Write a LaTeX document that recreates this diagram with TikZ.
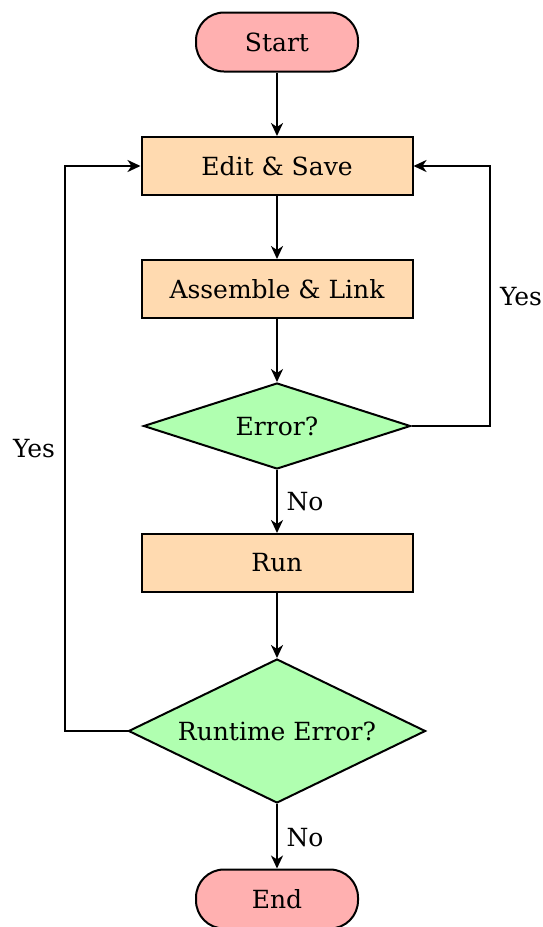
\documentclass[tikz,border=0pt]{standalone}
\usepackage{fontspec}
\setmainfont{DejaVu Serif}
\usetikzlibrary{shapes.geometric,arrows.meta}
\definecolor{termfill}{HTML}{FFB0B0}
\definecolor{procfill}{HTML}{FFDAB0}
\definecolor{decfill}{HTML}{B0FFB0}
\begin{document}
\begin{tikzpicture}[x=1pt,y=-1pt,
  every node/.style={font=\fontsize{25}{29}\selectfont},
  term/.style={draw, line width=2pt, fill=termfill, rounded corners=28pt, minimum width=162pt, minimum height=59pt, inner sep=0pt},
  proc/.style={draw, line width=2pt, fill=procfill, minimum width=271pt, minimum height=58pt, inner sep=0pt},
  dec/.style={draw, diamond, line width=2pt, fill=decfill, inner sep=0pt},
  flow/.style={line width=2.4pt, -{Stealth[length=13pt,width=12pt,inset=4pt]}},
  lbl/.style={inner sep=0pt}]
\useasboundingbox (0,0) rectangle (543,927);
\node[term] (start) at (277,42) {Start};
\node[proc] (edit) at (277,166) {Edit \& Save};
\node[proc] (asm) at (277,289) {Assemble \& Link};
\node[dec, aspect=3.1, minimum width=267pt, minimum height=86pt] (err) at (277,426) {Error?};
\node[proc] (run) at (277,563) {Run};
\node[dec, aspect=2.06, minimum width=297pt, minimum height=144pt] (rterr) at (277,731) {Runtime Error?};
\node[term] (end) at (277,899) {End};
\coordinate (rtop) at (490,166);
\coordinate (rbot) at (490,426);
\coordinate (ltop) at (65,166);
\coordinate (lbot) at (65,731);
\draw[flow] (start) -- (edit);
\draw[flow] (edit) -- (asm);
\draw[flow] (asm) -- (err);
\draw[flow] (err) -- (run);
\draw[flow] (run) -- (rterr);
\draw[flow] (rterr) -- (end);
\draw[flow] (err.east) -- (rbot) -- (rtop) -- (edit.east);
\draw[flow] (rterr.west) -- (lbot) -- (ltop) -- (edit.west);
\node[lbl] (no1) at (305,502) {No};
\node[lbl] (no2) at (305,838) {No};
\node[lbl] (yes1) at (521,297) {Yes};
\node[lbl] (yes2) at (34,449) {Yes};
\end{tikzpicture}
\end{document}
